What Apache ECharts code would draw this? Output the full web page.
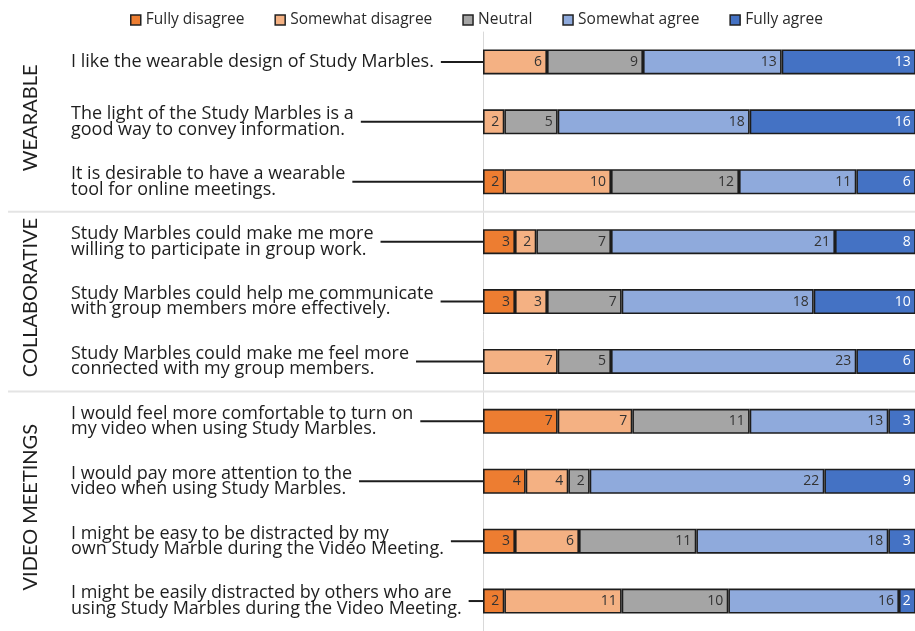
<!DOCTYPE html>
<html><head><meta charset="utf-8">
<script src="https://cdn.jsdelivr.net/npm/echarts@6/dist/echarts.min.js"></script>
<style>html,body{margin:0;padding:0;background:#fff}#c{width:915px;height:631px}</style>
</head><body><div id="c"></div>
<script>
const categories = [
  "I like the wearable design of Study Marbles.",
  "The light of the Study Marbles is a\ngood way to convey information.",
  "It is desirable to have a wearable\ntool for online meetings.",
  "Study Marbles could make me more\nwilling to participate in group work.",
  "Study Marbles could help me communicate\nwith group members more effectively.",
  "Study Marbles could make me feel more\nconnected with my group members.",
  "I would feel more comfortable to turn on\nmy video when using Study Marbles.",
  "I would pay more attention to the\nvideo when using Study Marbles.",
  "I might be easy to be distracted by my\nown Study Marble during the Video Meeting.",
  "I might be easily distracted by others who are\nusing Study Marbles during the Video Meeting."
];
const groupNames = ["WEARABLE", "COLLABORATIVE", "VIDEO MEETINGS"];
const groupStart = [0, 3, 6];
const groupEnd = [2, 5, 9];
const seriesNames = ["Fully disagree", "Somewhat disagree", "Neutral", "Somewhat agree", "Fully agree"];
const fullyDisagree    = [0, 0, 2, 3, 3, 0, 7, 4, 3, 2];
const somewhatDisagree = [6, 2, 10, 2, 3, 7, 7, 4, 6, 11];
const neutral          = [9, 5, 12, 7, 7, 5, 11, 2, 11, 10];
const somewhatAgree    = [13, 18, 11, 21, 18, 23, 13, 22, 18, 16];
const fullyAgree       = [13, 16, 6, 8, 10, 6, 3, 9, 3, 2];

const colors = ["#ED7D31", "#F4B183", "#A5A5A5", "#8FAADC", "#4472C4"];
const labelColors = ["#333333", "#333333", "#333333", "#333333", "#ffffff"];
const FONT = "Open Sans";
const LABEL_SIZE = 18;
const LABEL_MARGIN = 412;

const cv = document.createElement('canvas').getContext('2d');
cv.font = LABEL_SIZE + 'px "' + FONT + '"';
function measure(t) { return cv.measureText(t).width; }

const allSeries = [fullyDisagree, somewhatDisagree, neutral, somewhatAgree, fullyAgree];
const barSeries = allSeries.map((arr, k) => ({
  name: seriesNames[k],
  type: 'bar',
  stack: 'total',
  barWidth: 25,
  data: arr.map(v => v === 0 ? '-' : v),
  itemStyle: { color: colors[k], borderColor: '#1c1c1c', borderWidth: 1.6 },
  label: {
    show: true, position: 'insideRight', distance: 5,
    fontFamily: FONT, fontSize: 14, color: labelColors[k]
  }
}));

const chart = echarts.init(document.getElementById('c'));
chart.setOption({
  animation: false,
  backgroundColor: '#fff',
  legend: {
    data: seriesNames,
    top: 7, left: 125,
    icon: 'rect', itemWidth: 10, itemHeight: 10, itemGap: 30, itemTextGap: 5,
    itemStyle: { borderColor: '#222', borderWidth: 1.5 },
    textStyle: { fontFamily: FONT, fontSize: 15.5, color: '#2a2a2a' }
  },
  grid: { left: 483, right: 0, top: 32, height: 606 },
  xAxis: { type: 'value', min: 0, max: 40.5, show: false },
  yAxis: {
    type: 'category', inverse: true, data: categories,
    axisLine: { show: true, lineStyle: { color: '#d9d9d9', width: 1 } },
    axisTick: { show: false },
    axisLabel: {
      align: 'left', margin: LABEL_MARGIN, verticalAlign: 'middle',
      fontFamily: FONT, fontSize: LABEL_SIZE, lineHeight: 15.5, color: '#1e1e1e',
      padding: [0, 0, 8, 0]
    }
  },
  series: barSeries.concat([
    {
      type: 'custom', clip: false, silent: true,
      data: categories.map((c, i) => [0, i]),
      encode: { x: 0, y: 1 },
      renderItem: function (params, api) {
        const idx = api.value(1);
        const p = api.coord([0, idx]);
        const lines = categories[idx].split('\n');
        const w = Math.max.apply(null, lines.map(measure));
        const x1 = p[0] - LABEL_MARGIN + w + 7;
        return { type: 'line', shape: { x1: x1, y1: p[1], x2: p[0], y2: p[1] },
                 style: { stroke: '#1c1c1c', lineWidth: 2 } };
      }
    },
    {
      type: 'custom', clip: false, silent: true,
      data: groupNames.map((g, i) => [0, groupStart[i], groupEnd[i], i]),
      encode: { x: 0, y: 1 },
      renderItem: function (params, api) {
        const gi = api.value(3);
        const a = api.coord([0, api.value(1)]);
        const b = api.coord([0, api.value(2)]);
        const cy = (a[1] + b[1]) / 2 - 4;
        const children = [{
          type: 'text', x: a[0] - 452, y: cy, rotation: Math.PI / 2,
          style: { text: groupNames[gi], fontFamily: 'Lato', fontSize: 20, fill: '#1e1e1e',
                   align: 'center', verticalAlign: 'middle' }
        }];
        if (gi > 0) {
          const prev = api.coord([0, api.value(1) - 1]);
          const sy = (prev[1] + a[1]) / 2;
          children.push({ type: 'line', shape: { x1: 8, y1: sy, x2: 915, y2: sy },
                          style: { stroke: '#e4e4e4', lineWidth: 2 } });
        }
        return { type: 'group', children: children };
      }
    }
  ])
});
</script></body></html>
